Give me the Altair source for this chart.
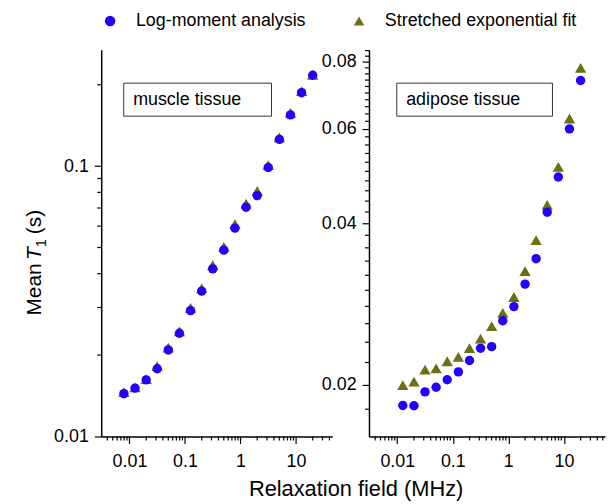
import altair as alt
import pandas as pd

SERIES = ["Log-moment analysis", "Stretched exponential fit"]
COLORS = ["#2200FF", "#6E6E14"]
SHAPES = ["circle", "triangle-up"]

# ---- muscle tissue (left panel) ----
muscle_freq = [0.00794, 0.0126, 0.02, 0.0316, 0.0501, 0.0794, 0.126, 0.2, 0.316,
               0.501, 0.794, 1.26, 2.0, 3.16, 5.01, 7.94, 12.6, 20.0]
muscle_logmoment = [0.0144, 0.0151, 0.0162, 0.0178, 0.0209, 0.0241, 0.0292, 0.0345, 0.0417,
                    0.0489, 0.0590, 0.0705, 0.0778, 0.0988, 0.1256, 0.1547, 0.1869, 0.2169]
muscle_stretched = [0.0146, 0.0152, 0.0163, 0.0182, 0.0213, 0.0245, 0.0299, 0.0353, 0.0430,
                    0.0503, 0.0610, 0.0727, 0.0809, 0.1009, 0.1278, 0.1573, 0.1893, 0.2178]

# ---- adipose tissue (right panel) ----
adipose_freq = [0.0126, 0.02, 0.0316, 0.0501, 0.0794, 0.126, 0.2, 0.316, 0.501,
                0.794, 1.26, 2.0, 3.16, 5.01, 7.94, 12.6, 20.0]
adipose_logmoment = [0.01829, 0.01827, 0.01939, 0.01978, 0.02043, 0.02113, 0.02219, 0.02339, 0.02355,
                     0.02632, 0.02797, 0.03081, 0.03436, 0.04196, 0.04880, 0.06002, 0.07386]
adipose_stretched = [0.01997, 0.02026, 0.02133, 0.02146, 0.02212, 0.02254, 0.02341, 0.02437, 0.02572,
                     0.02723, 0.02915, 0.03256, 0.03721, 0.04331, 0.05099, 0.06275, 0.07797]

# ---- axis tick values ----
x_major = [0.01, 0.1, 1, 10]
x_minor_left = [0.004, 0.005, 0.006, 0.007, 0.008, 0.009,
                0.02, 0.03, 0.04, 0.05, 0.06, 0.07, 0.08, 0.09,
                0.2, 0.3, 0.4, 0.5, 0.6, 0.7, 0.8, 0.9,
                2, 3, 4, 5, 6, 7, 8, 9, 20, 30, 40]
x_minor_right = x_minor_left + [50]
y_major_left = [0.01, 0.1]
y_minor_left = [0.02, 0.03, 0.04, 0.05, 0.06, 0.07, 0.08, 0.09, 0.2]
y_major_right = [0.02, 0.04, 0.06, 0.08]
y_minor_right = [0.018, 0.022, 0.024, 0.026, 0.028, 0.030, 0.032, 0.034, 0.036, 0.038,
                 0.042, 0.044, 0.046, 0.048, 0.050, 0.052, 0.054, 0.056, 0.058,
                 0.062, 0.064, 0.066, 0.068, 0.070, 0.072, 0.074, 0.076, 0.078, 0.082, 0.084]

FONT = "Liberation Sans"
H = 390


def frame(freq, lm, se):
    n = len(freq)
    return pd.DataFrame({
        "freq": list(freq) + list(freq),
        "t1": list(lm) + list(se),
        "series": [SERIES[0]] * n + [SERIES[1]] * n,
    })


def panel(df, xdom, ydom, xmin, ymin, ymaj, label, box):
    xs = alt.Scale(type="log", domain=xdom, nice=False)
    ys = alt.Scale(type="log", domain=ydom, nice=False)
    xax = alt.Axis(values=x_major, format="~g", tickSize=7, title=None, orient="bottom", labelPadding=9)
    yax = alt.Axis(values=ymaj, format="~g", tickSize=7, title=None, orient="left", labelPadding=6)
    color = alt.Color("series:N", scale=alt.Scale(domain=SERIES, range=COLORS),
                      legend=alt.Legend(orient="none", legendX=0, legendY=-38, direction="horizontal",
                                        title=None, labelFontSize=18, labelFont=FONT, labelColor="black",
                                        labelLimit=0, symbolSize=110, labelOffset=17, columnPadding=44,
                                        symbolStrokeWidth=0))
    shape = alt.Shape("series:N", scale=alt.Scale(domain=SERIES, range=SHAPES), legend=None)

    tri = alt.Chart(df).transform_filter(alt.datum.series == SERIES[1]).mark_point(
        filled=True, size=130, opacity=1).encode(
        x=alt.X("freq:Q", scale=xs, axis=xax),
        y=alt.Y("t1:Q", scale=ys, axis=yax),
        color=color, shape=shape,
    )
    circ = alt.Chart(df).transform_filter(alt.datum.series == SERIES[0]).mark_point(
        filled=True, size=90, opacity=1).encode(
        x=alt.X("freq:Q", scale=xs, axis=xax),
        y=alt.Y("t1:Q", scale=ys, axis=yax),
        color=color, shape=shape,
    )
    xminor = alt.Chart(pd.DataFrame({"freq": xmin})).mark_rule(color="black", strokeWidth=1.2).encode(
        x=alt.X("freq:Q", scale=xs, axis=xax), y=alt.value(H), y2=alt.value(H + 4))
    yminor = alt.Chart(pd.DataFrame({"t1": ymin})).mark_rule(color="black", strokeWidth=1.2).encode(
        y=alt.Y("t1:Q", scale=ys, axis=yax), x=alt.value(-4), x2=alt.value(0))

    lab = pd.DataFrame({"label": [label]})
    rect = alt.Chart(lab).mark_rect(fill="white", stroke="#333333", strokeWidth=1).encode(
        x=alt.value(box[0]), x2=alt.value(box[1]), y=alt.value(box[2]), y2=alt.value(box[3]))
    txt = alt.Chart(lab).mark_text(align="left", baseline="middle", font=FONT, fontSize=18,
                                   color="black").encode(
        text="label:N", x=alt.value(box[0] + 9.5), y=alt.value((box[2] + box[3]) / 2 + 0.5))
    return [tri, circ, xminor, yminor, rect, txt]


left_df = frame(muscle_freq, muscle_logmoment, muscle_stretched)
right_df = frame(adipose_freq, adipose_logmoment, adipose_stretched)


# y-axis title pieces: "Mean T1 (s)" with italic T and subscript 1
def title_piece(text, x, y, size, style="normal"):
    return alt.Chart(pd.DataFrame({"t": [text]})).mark_text(
        align="left", baseline="alphabetic", angle=270, font=FONT, fontSize=size,
        fontStyle=style, color="black").encode(text="t:N", x=alt.value(x), y=alt.value(y))


ytitle = [
    title_piece("Mean", -61, 268, 21),
    title_piece("T", -61, 212, 21, "italic"),
    title_piece("1", -56, 199, 14),
    title_piece("(s)", -61, 186, 21),
]

left = alt.layer(*panel(left_df, [0.0031, 45], [0.01, 0.2695], x_minor_left, y_minor_left, y_major_left,
                        "muscle tissue", [22.7, 171.7, 33.7, 67]), *ytitle).properties(width=233, height=H)

right = alt.layer(*panel(right_df, [0.0031, 55], [0.01601, 0.08431], x_minor_right, y_minor_right,
                         y_major_right, "adipose tissue", [28, 185, 33.7, 67])).properties(width=238, height=H)

chart = alt.hconcat(left, right, spacing=37, bounds="flush").properties(
    title=alt.TitleParams("Relaxation field (MHz)", orient="bottom", anchor="middle", font=FONT,
                          fontSize=22, fontWeight="normal", color="black", offset=9, dx=42),
    padding={"left": 16, "top": 2, "right": 2, "bottom": 2},
).configure_view(stroke=None).configure_axis(
    domainColor="black", domainWidth=1.5, tickColor="black", tickWidth=1.2, labelColor="black",
    labelFont=FONT, labelFontSize=18, grid=False
)

chart.save("out.html", embed_options={"renderer": "svg", "actions": False})
